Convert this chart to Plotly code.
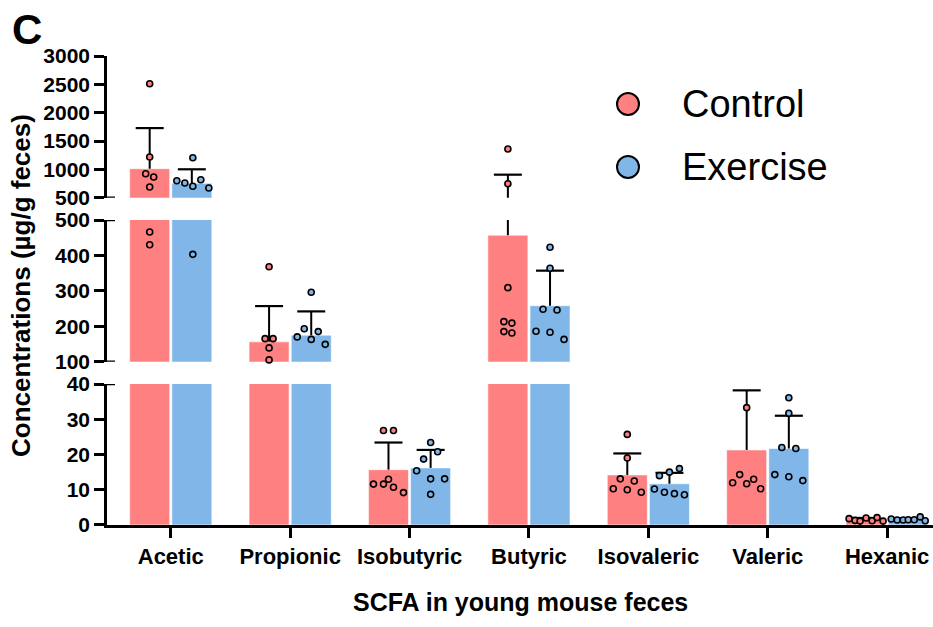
import plotly.graph_objects as go

# ---- data -----------------------------------------------------------------
categories = ["Acetic", "Propionic", "Isobutyric", "Butyric",
              "Isovaleric", "Valeric", "Hexanic"]
groups = ["Control", "Exercise"]

# bar heights (mean) and upward error bars (SD), µg/g feces
ctrl_mean = [1012, 156, 15.7, 457, 14.2, 21.3, 1.55]
ctrl_sd = [716, 101, 7.7, 449, 6.1, 16.9, 0.45]
exer_mean = [754, 175, 16.2, 258, 11.7, 21.7, 1.57]
exer_sd = [247, 67, 5.1, 99, 3.1, 9.3, 0.38]

# individual animals (n = 7 per group)
ctrl_points = [
    [2510, 1218, 923, 865, 689, 466, 430],
    [368, 165, 165, 139, 105, 75, 75],
    [26.8, 26.8, 13.0, 11.6, 11.6, 10.7, 9.2],
    [1359, 747, 309, 213, 209, 185, 181],
    [25.7, 19.0, 13.1, 12.5, 10.3, 10.0, 9.3],
    [54.5, 33.3, 14.3, 13.0, 12.0, 11.7, 10.3],
    [1.8, 1.3, 1.1, 2.0, 1.2, 2.1, 1.1],
]
exer_points = [
    [1205, 800, 759, 701, 817, 671, 403],
    [296, 193, 185, 170, 163, 149, 69],
    [23.4, 20.8, 18.7, 15.4, 13.1, 13.1, 8.7],
    [423, 364, 248, 246, 186, 183, 163],
    [16.0, 15.0, 14.0, 10.2, 9.3, 8.9, 8.6],
    [36.1, 31.7, 22.0, 21.7, 14.3, 13.7, 12.6],
    [1.7, 1.4, 1.4, 1.5, 1.5, 2.3, 1.2],
]

# ---- styling / layout -----------------------------------------------------
# horizontal swarm offsets of the dots inside each bar (pixels)
ctrl_spread = [
    [0, 0, -4, 4, 0, 0, 0],
    [0, -4, 4, 0, 0, 0, 0],
    [-5, 5, 0, -15, -5, 5, 15],
    [0, 0, 0, -4, 4, -4, 4],
    [0, 0, -7, 7, -14, 0, 14],
    [0, 0, -7, 7, -14, 0, 14],
    [-17, -11, -6, 0, 6, 11, 17],
]
exer_spread = [
    [1, -15, -7, 1, 9, 17, 1],
    [0, -7, 7, -14, 0, 14, 0],
    [0, 7, -7, -14, 0, 14, 0],
    [0, 0, -7, 7, -14, 0, 14],
    [10, 0, -10, -15, -5, 5, 15],
    [0, 0, -7, 7, -14, 0, 14],
    [-17, -11, -5, 0, 6, 12, 17],
]

RED = "#FF8080"
BLUE = "#80B6E8"
FONT = "Arial, 'Liberation Sans', sans-serif"

FIG_W, FIG_H = 933, 627
M_L, M_R, M_T, M_B = 107, 0, 56, 102
PLOT_W = FIG_W - M_L - M_R
PLOT_H = FIG_H - M_T - M_B
X_RANGE = [-0.534, 6.384]
PX_TO_X = (X_RANGE[1] - X_RANGE[0]) / PLOT_W

BARGAP = 0.294
BARGROUPGAP = 0.05
BAR_SHIFT = (1 - BARGAP) / 4

# broken y axis: (axis id, value range, vertical domain, tick values)
segments = [
    ("y", [0, 40], [0.0, 0.3006], [0, 10, 20, 30, 40]),
    ("y2", [100, 500], [0.3482, 0.6503], [100, 200, 300, 400, 500]),
    ("y3", [500, 3000], [0.6979, 1.0], [500, 1000, 1500, 2000, 2500, 3000]),
]

series = [
    ("Control", ctrl_mean, ctrl_sd, ctrl_points, ctrl_spread, RED, -1),
    ("Exercise", exer_mean, exer_sd, exer_points, exer_spread, BLUE, +1),
]

xpos = list(range(len(categories)))
fig = go.Figure()

# bars, repeated on every axis segment (clipped to each segment's range)
for axis_id, (lo, hi), _, _ in segments:
    for name, means, sds, _, _, color, _ in series:
        fig.add_trace(go.Bar(
            x=xpos, y=means, name=name, xaxis="x", yaxis=axis_id,
            marker=dict(color=color,
                        line=dict(color="rgba(255,255,255,0.6)", width=1)),
            showlegend=False, hoverinfo="skip",
        ))

# one-sided SD whiskers: stem from the bar top plus a cap
for axis_id, (lo, hi), _, _ in segments:
    for name, means, sds, _, _, color, side in series:
        sx, sy, cx, cy = [], [], [], []
        for i, (m, s) in enumerate(zip(means, sds)):
            xc = i + side * BAR_SHIFT
            sx += [xc, xc, None]
            sy += [m, m + s, None]
            if lo <= m + s <= hi:
                cx.append(xc)
                cy.append(m + s)
        fig.add_trace(go.Scatter(
            x=sx, y=sy, mode="lines", xaxis="x", yaxis=axis_id,
            line=dict(color="black", width=2),
            showlegend=False, hoverinfo="skip",
        ))
        fig.add_trace(go.Scatter(
            x=cx, y=cy, mode="markers", xaxis="x", yaxis=axis_id,
            marker=dict(symbol="line-ew", size=20,
                        line=dict(color="black", width=2.2)),
            cliponaxis=False, showlegend=False, hoverinfo="skip",
        ))

# individual points
for axis_id, (lo, hi), _, _ in segments:
    for name, _, _, pts, spread, color, side in series:
        xs, ys = [], []
        for i, (vals, offs) in enumerate(zip(pts, spread)):
            for v, o in zip(vals, offs):
                if lo <= v <= hi:
                    xs.append(i + side * BAR_SHIFT + o * PX_TO_X)
                    ys.append(v)
        fig.add_trace(go.Scatter(
            x=xs, y=ys, mode="markers", xaxis="x", yaxis=axis_id,
            marker=dict(size=6, color=color,
                        line=dict(color="black", width=1.6)),
            cliponaxis=False, showlegend=False, hoverinfo="skip",
        ))

axis_common = dict(
    showline=True, linecolor="black", linewidth=2.5,
    ticks="outside", ticklen=10, tickwidth=2.5, tickcolor="black",
    showgrid=False, zeroline=False,
    tickfont=dict(family=FONT, size=21, color="black", weight="bold"),
    anchor="x", fixedrange=True,
)
layout_axes = {}
for axis_id, rng, dom, tv in segments:
    key = "yaxis" if axis_id == "y" else "yaxis" + axis_id[1:]
    layout_axes[key] = dict(axis_common, range=rng, domain=dom,
                            tickmode="array", tickvals=tv,
                            ticktext=[str(t) for t in tv])

# short stubs on the right of the axis where it is broken
shapes = []
for yref, val in [("y3", 500), ("y2", 500), ("y2", 100), ("y", 40)]:
    shapes.append(dict(type="line", xref="paper", xsizemode="pixel",
                       xanchor=0, x0=0, x1=8, yref=yref, y0=val, y1=val,
                       line=dict(color="black", width=2.5)))

# legend: circles plus labels
legend_x = (628 - M_L) / PLOT_W
legend_text_x = (680 - M_L) / PLOT_W
legend_y = [(FIG_H - M_B - 104) / PLOT_H, (FIG_H - M_B - 167) / PLOT_H]
annotations = []
for (name, _m, _s, _p, _o, color, _side), ly in zip(series, legend_y):
    shapes.append(dict(type="circle", xref="paper", yref="paper",
                       xsizemode="pixel", ysizemode="pixel",
                       xanchor=legend_x, yanchor=ly,
                       x0=-11, x1=11, y0=-11, y1=11,
                       fillcolor=color, line=dict(color="black", width=2)))
    annotations.append(dict(x=legend_text_x, y=ly, xref="paper", yref="paper",
                            text=name, showarrow=False, xanchor="left",
                            yanchor="middle",
                            font=dict(family=FONT, size=38, color="black")))

annotations += [
    dict(x=(27 - M_L) / PLOT_W, y=(FIG_H - M_B - 30) / PLOT_H,
         xref="paper", yref="paper", text="C", showarrow=False,
         xanchor="center", yanchor="middle",
         font=dict(family=FONT, size=42, color="black", weight="bold")),
    dict(x=(21 - M_L) / PLOT_W, y=(FIG_H - M_B - 286) / PLOT_H,
         xref="paper", yref="paper", text="Concentrations (µg/g feces)",
         showarrow=False, textangle=-90, xanchor="center", yanchor="middle",
         font=dict(family=FONT, size=26, color="black", weight="bold")),
    dict(x=0.5, y=(FIG_H - M_B - 602) / PLOT_H,
         xref="paper", yref="paper", text="SCFA in young mouse feces",
         showarrow=False, xanchor="center", yanchor="middle",
         font=dict(family=FONT, size=25, color="black", weight="bold")),
]

fig.update_layout(
    width=FIG_W, height=FIG_H,
    margin=dict(l=M_L, r=M_R, t=M_T, b=M_B),
    paper_bgcolor="white", plot_bgcolor="white",
    barmode="group", bargap=BARGAP, bargroupgap=BARGROUPGAP,
    showlegend=False,
    xaxis=dict(
        range=X_RANGE, domain=[0, 1], anchor="y",
        tickmode="array", tickvals=xpos, ticktext=categories,
        showline=True, linecolor="black", linewidth=2.5,
        ticks="outside", ticklen=10, tickwidth=2.5, tickcolor="black",
        showgrid=False, zeroline=False, fixedrange=True,
        tickfont=dict(family=FONT, size=22, color="black", weight="bold"),
    ),
    shapes=shapes,
    annotations=annotations,
    **layout_axes,
)

fig.write_html("out.html")
